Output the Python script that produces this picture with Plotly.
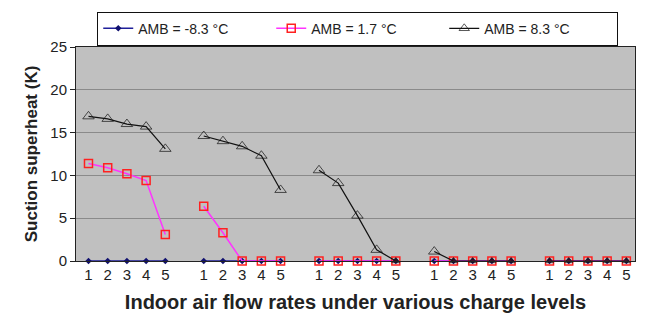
import plotly.graph_objects as go

# Indoor air flow rate index within each charge level
flow_labels = ["1", "2", "3", "4", "5"]
n_groups = 5

# Suction superheat (K) per charge level, flow rates 1..5
amb_m83 = [[0, 0, 0, 0, 0], [0, 0, 0, 0, 0], [0, 0, 0, 0, 0], [0, 0, 0, 0, 0], [0, 0, 0, 0, 0]]
amb_17 = [[11.4, 10.9, 10.2, 9.4, 3.1], [6.4, 3.3, 0, 0, 0], [0, 0, 0, 0, 0], [0, 0, 0, 0, 0], [0, 0, 0, 0, 0]]
amb_83 = [[16.9, 16.6, 16.0, 15.7, 13.1], [14.6, 14.0, 13.4, 12.3, 8.3], [10.6, 9.1, 5.3, 1.3, 0], [1.1, 0, 0, 0, 0], [0, 0, 0, 0, 0]]

series_names = ["AMB = -8.3 °C", "AMB = 1.7 °C", "AMB = 8.3 °C"]


def flatten(groups):
    """Lay groups side by side with one empty slot between them (breaks the line)."""
    xs, ys = [], []
    for g, vals in enumerate(groups):
        for i, v in enumerate(vals):
            xs.append(g * 6 + i)
            ys.append(v)
        if g < len(groups) - 1:
            xs.append(g * 6 + 5)
            ys.append(None)
    return xs, ys


font_family = "Arial, Liberation Sans, sans-serif"
fig = go.Figure()

x, y = flatten(amb_m83)
fig.add_trace(go.Scatter(
    x=x, y=y, name=series_names[0], mode="lines+markers",
    line=dict(color="#1f1f9a", width=1.5),
    marker=dict(symbol="diamond", size=5, color="#10106e"),
    cliponaxis=False,
))

x, y = flatten(amb_17)
fig.add_trace(go.Scatter(
    x=x, y=y, name=series_names[1], mode="lines+markers",
    line=dict(color="#ff33ff", width=1.5),
    marker=dict(symbol="square-open", size=8, color="#ff2020", line=dict(width=1.5)),
    cliponaxis=False,
))

x, y = flatten(amb_83)
symbols = ["triangle-up" if v == 0 else "triangle-up-open" for v in y]
colors = ["#3a0a0a" if v == 0 else "#111111" for v in y]
sizes = [7 if v == 0 else 10 for v in y]
fig.add_trace(go.Scatter(
    x=x, y=y, name=series_names[2], mode="lines+markers",
    line=dict(color="#111111", width=1.2),
    marker=dict(symbol=symbols, size=sizes, color=colors, line=dict(width=1)),
    cliponaxis=False,
))

tickvals = [g * 6 + i for g in range(n_groups) for i in range(5)]
ticktext = flow_labels * n_groups

fig.update_layout(
    width=647, height=320,
    margin=dict(l=76, r=12, t=47, b=59),
    paper_bgcolor="white",
    plot_bgcolor="#c0c0c0",
    font=dict(family=font_family, color="#222222"),
    showlegend=True,
    legend=dict(
        orientation="h",
        x=0.038, y=1.165, xanchor="left", yanchor="top",
        bgcolor="white", bordercolor="#111111", borderwidth=1,
        font=dict(size=14, family=font_family),
        entrywidth=128, entrywidthmode="pixels",
        itemsizing="trace", itemwidth=30,
    ),
    xaxis=dict(
        range=[-0.65, 28.45],
        tickvals=tickvals, ticktext=ticktext,
        tickfont=dict(size=15),
        showgrid=False, zeroline=False,
        showline=True, linecolor="#222222", linewidth=1, mirror=True,
        ticks="",
        title=dict(text="<b>Indoor air flow rates under various charge levels</b>",
                   font=dict(size=20), standoff=12),
    ),
    yaxis=dict(
        range=[0, 25], dtick=5,
        tickfont=dict(size=15),
        showgrid=True, gridcolor="#8a8a8a", gridwidth=1,
        zeroline=False,
        showline=True, linecolor="#222222", linewidth=1, mirror=True,
        ticks="outside", ticklen=5, tickcolor="#222222",
        title=dict(text="<b>Suction superheat (K)</b>", font=dict(size=17), standoff=8),
    ),
)

fig.write_html("out.html")
